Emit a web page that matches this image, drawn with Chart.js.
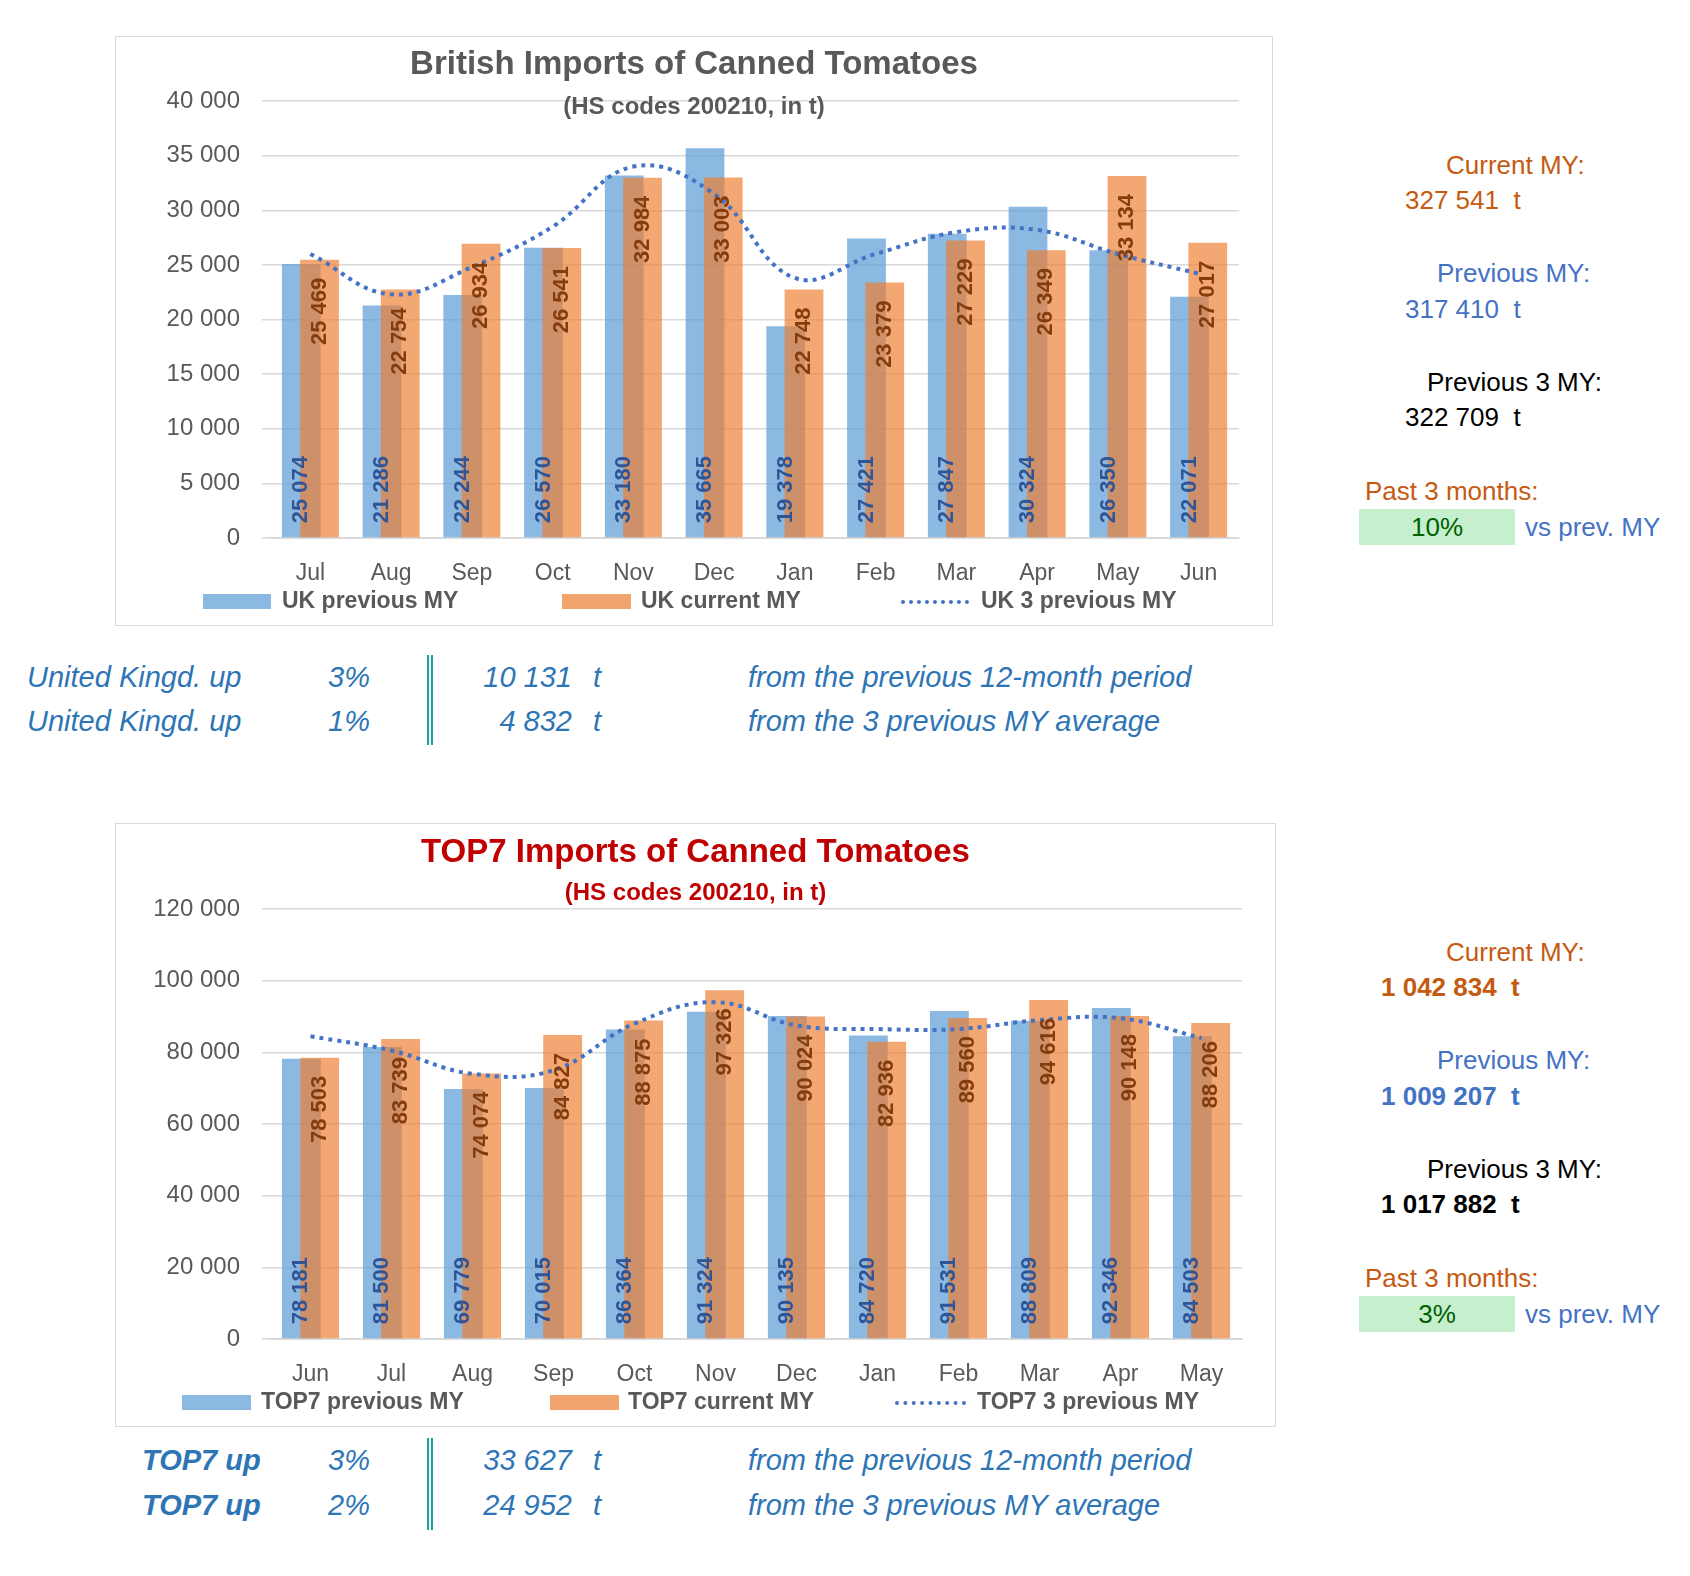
<!DOCTYPE html>
<html><head><meta charset="utf-8">
<script src="https://cdn.jsdelivr.net/npm/chart.js@4"></script>
<style>
body{margin:0;background:#fff;width:1690px;height:1576px;position:relative;font-family:"Liberation Sans",Arial,sans-serif;}
.a{position:absolute;white-space:nowrap;}
.box{position:absolute;border:1px solid #D9D9D9;box-sizing:border-box;}
.t1{font-weight:bold;font-size:33px;color:#595959;text-align:center;}
.st{font-weight:bold;font-size:24px;text-align:center;}
.leg{font-weight:bold;font-size:23px;color:#595959;}
.sw{position:absolute;height:15px;}
.side{font-size:26px;}
.bt{font-style:italic;font-size:29px;color:#2E75B6;font-family:"Liberation Sans Narrow","Liberation Sans",sans-serif;}
.dl{position:absolute;border-left:2px solid #1AA39A;border-right:2px solid #1AA39A;width:2px;}
</style></head><body>
<div class="box" style="left:115px;top:36px;width:1158px;height:590px"><canvas id="c1"></canvas></div>
<div class="box" style="left:115px;top:823px;width:1161px;height:604px"><canvas id="c2"></canvas></div>

<div class="a t1" style="left:115px;width:1158px;top:44px">British Imports of Canned Tomatoes</div>
<div class="a st" style="left:115px;width:1158px;top:92px;color:#595959">(HS codes 200210, in t)</div>
<div class="a t1" style="left:115px;width:1161px;top:832px;color:#C00000">TOP7 Imports of Canned Tomatoes</div>
<div class="a st" style="left:115px;width:1161px;top:878px;color:#C00000">(HS codes 200210, in t)</div>

<div class="sw" style="left:203px;top:594px;width:68px;background:rgba(91,155,213,0.7)"></div>
<div class="a leg" style="left:282px;top:587px">UK previous MY</div>
<div class="sw" style="left:562px;top:594px;width:69px;background:rgba(237,125,49,0.7)"></div>
<div class="a leg" style="left:641px;top:587px">UK current MY</div>
<div class="a" style="left:901px;top:600px;width:68px;border-top:4px dotted #4472C4"></div>
<div class="a leg" style="left:981px;top:587px">UK 3 previous MY</div>

<div class="sw" style="left:182px;top:1395px;width:69px;background:rgba(91,155,213,0.7)"></div>
<div class="a leg" style="left:261px;top:1388px">TOP7 previous MY</div>
<div class="sw" style="left:550px;top:1395px;width:69px;background:rgba(237,125,49,0.7)"></div>
<div class="a leg" style="left:628px;top:1388px">TOP7 current MY</div>
<div class="a" style="left:895px;top:1401px;width:71px;border-top:4px dotted #4472C4"></div>
<div class="a leg" style="left:977px;top:1388px">TOP7 3 previous MY</div>

<div class="a side" style="left:1446px;top:150px;color:#C55A11">Current MY:</div>
<div class="a side" style="left:1405px;top:185px;color:#C55A11">327 541&nbsp; t</div>
<div class="a side" style="left:1437px;top:258px;color:#4472C4">Previous MY:</div>
<div class="a side" style="left:1405px;top:294px;color:#4472C4">317 410&nbsp; t</div>
<div class="a side" style="left:1427px;top:367px;color:#000">Previous 3 MY:</div>
<div class="a side" style="left:1405px;top:402px;color:#000">322 709&nbsp; t</div>
<div class="a side" style="left:1365px;top:476px;color:#C55A11">Past 3 months:</div>
<div class="a side" style="left:1359px;top:509px;width:156px;height:36px;background:#C6EFCE;color:#006100;text-align:center;line-height:36px">10%</div>
<div class="a side" style="left:1525px;top:512px;color:#4472C4">vs prev. MY</div>

<div class="a side" style="left:1446px;top:937px;color:#C55A11">Current MY:</div>
<div class="a side" style="left:1381px;top:972px;color:#C55A11;font-weight:bold">1 042 834&nbsp; t</div>
<div class="a side" style="left:1437px;top:1045px;color:#4472C4">Previous MY:</div>
<div class="a side" style="left:1381px;top:1081px;color:#4472C4;font-weight:bold">1 009 207&nbsp; t</div>
<div class="a side" style="left:1427px;top:1154px;color:#000">Previous 3 MY:</div>
<div class="a side" style="left:1381px;top:1189px;color:#000;font-weight:bold">1 017 882&nbsp; t</div>
<div class="a side" style="left:1365px;top:1263px;color:#C55A11">Past 3 months:</div>
<div class="a side" style="left:1359px;top:1296px;width:156px;height:36px;background:#C6EFCE;color:#006100;text-align:center;line-height:36px">3%</div>
<div class="a side" style="left:1525px;top:1299px;color:#4472C4">vs prev. MY</div>

<div class="a bt" style="left:27px;top:661px">United Kingd. up</div>
<div class="a bt" style="left:328px;top:661px">3%</div>
<div class="a bt" style="left:470px;top:661px;width:102px;text-align:right">10 131</div>
<div class="a bt" style="left:593px;top:661px">t</div>
<div class="a bt" style="left:748px;top:661px">from the previous 12-month period</div>
<div class="a bt" style="left:27px;top:705px">United Kingd. up</div>
<div class="a bt" style="left:328px;top:705px">1%</div>
<div class="a bt" style="left:470px;top:705px;width:102px;text-align:right">4 832</div>
<div class="a bt" style="left:593px;top:705px">t</div>
<div class="a bt" style="left:748px;top:705px">from the 3 previous MY average</div>
<div class="dl" style="left:427px;top:655px;height:90px"></div>

<div class="a bt" style="left:142px;top:1444px;font-weight:bold">TOP7 up</div>
<div class="a bt" style="left:328px;top:1444px">3%</div>
<div class="a bt" style="left:470px;top:1444px;width:102px;text-align:right">33 627</div>
<div class="a bt" style="left:593px;top:1444px">t</div>
<div class="a bt" style="left:748px;top:1444px">from the previous 12-month period</div>
<div class="a bt" style="left:142px;top:1489px;font-weight:bold">TOP7 up</div>
<div class="a bt" style="left:328px;top:1489px">2%</div>
<div class="a bt" style="left:470px;top:1489px;width:102px;text-align:right">24 952</div>
<div class="a bt" style="left:593px;top:1489px">t</div>
<div class="a bt" style="left:748px;top:1489px">from the 3 previous MY average</div>
<div class="dl" style="left:427px;top:1438px;height:92px"></div>

<script>
const ukMonths=["Jul","Aug","Sep","Oct","Nov","Dec","Jan","Feb","Mar","Apr","May","Jun"];
const ukPrev=[25074,21286,22244,26570,33180,35665,19378,27421,27847,30324,26350,22071];
const ukCur=[25469,22754,26934,26541,32984,33003,22748,23379,27229,26349,33134,27017];
const uk3=[26000,22300,24800,28500,34000,31500,23800,26000,28000,28200,26000,24200];
const t7Months=["Jun","Jul","Aug","Sep","Oct","Nov","Dec","Jan","Feb","Mar","Apr","May"];
const t7Prev=[78181,81500,69779,70015,86364,91324,90135,84720,91531,88809,92346,84503];
const t7Cur=[78503,83739,74074,84827,88875,97326,90024,82936,89560,94616,90148,88206];
const t73=[84500,80500,74000,75000,88000,94000,87500,86500,86500,89000,89500,84000];

const fmt=v=>String(Math.round(v)).replace(/\B(?=(\d{3})+(?!\d))/g,' ');
const shiftPlugin={id:'shift',afterDatasetsUpdate(ch){
  const xs=ch.scales.x; const cw=(xs.right-xs.left)/ch.data.labels.length;
  [0,1].forEach(i=>{const m=ch.getDatasetMeta(i); const d=(i===0?-1:1)*0.113*cw; m.data.forEach(b=>{b.x+=d;});});
}};
const labelPlugin={id:'lbl',afterDatasetsDraw(ch){
  const c=ch.ctx; c.save(); c.font='bold 22px "Liberation Sans",Arial'; 
  [0,1].forEach(i=>{const m=ch.getDatasetMeta(i); const ds=ch.data.datasets[i];
    m.data.forEach((b,j)=>{c.save(); c.translate(b.x,0); c.rotate(-Math.PI/2);
      if(i===0){c.fillStyle='#2F5597'; c.textAlign='left'; c.textBaseline='middle'; c.fillText(fmt(ds.data[j]),-(b.base-14),0);}
      else{c.fillStyle='#843C0C'; c.textAlign='right'; c.textBaseline='middle'; c.fillText(fmt(ds.data[j]),-(b.y+18),0);}
      c.restore();});
  }); c.restore();
}};
function make(id,labels,prev,cur,avg,max,step,padTop){
  new Chart(document.getElementById(id),{
    data:{labels,datasets:[
      {type:'bar',data:prev,backgroundColor:'rgba(91,155,213,0.7)',grouped:false,barPercentage:0.48,categoryPercentage:1,order:3},
      {type:'bar',data:cur,backgroundColor:'rgba(237,125,49,0.68)',grouped:false,barPercentage:0.48,categoryPercentage:1,order:2},
      {type:'line',data:avg,borderColor:'#4472C4',borderWidth:4,borderDash:[4,5],pointRadius:0,tension:0.4,fill:false,order:1}
    ]},
    options:{responsive:false,animation:false,devicePixelRatio:1,
      layout:{padding:{top:padTop,right:33,left:0,bottom:0}},
      plugins:{legend:{display:false},tooltip:{enabled:false}},
      scales:{
        x:{grid:{display:false},border:{display:true,color:'#D9D9D9'},ticks:{color:'#595959',font:{size:23,family:'"Liberation Sans",Arial'},padding:14},afterFit:s=>{s.height=87;}},
        y:{min:0,max,ticks:{stepSize:step,color:'#595959',font:{size:24,family:'"Liberation Sans",Arial'},padding:22,callback:v=>fmt(v)},grid:{color:'#D9D9D9',lineWidth:1.5},border:{display:false},afterFit:s=>{s.width=154;}}
      }},
    plugins:[shiftPlugin,labelPlugin]
  });
}
const c1=document.getElementById('c1'); c1.width=1156; c1.height=588;
const c2=document.getElementById('c2'); c2.width=1159; c2.height=602;
make('c1',ukMonths,ukPrev,ukCur,uk3,40000,5000,64);
make('c2',t7Months,t7Prev,t7Cur,t73,120000,20000,85);
</script>
</body></html>
